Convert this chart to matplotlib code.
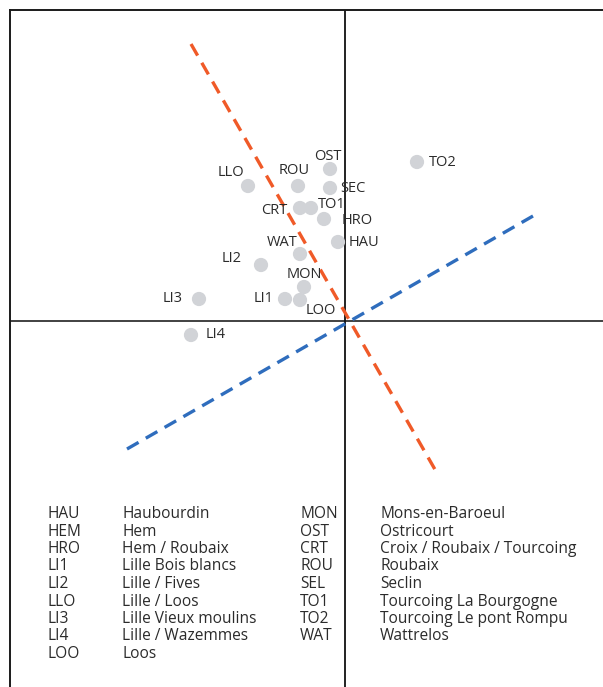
import matplotlib as mpl
mpl.use('Agg')
import matplotlib.pyplot as plt

plt.rcParams['font.family'] = ['Open Sans', 'DejaVu Sans']

# Scores of the sites on the two first axes
codes = ['HAU', 'HRO', 'LI1', 'LI2', 'LLO', 'LI3', 'LI4', 'LOO',
         'MON', 'OST', 'CRT', 'ROU', 'SEC', 'TO1', 'TO2', 'WAT']
xs = [-0.07, -0.21, -0.60, -0.84, -0.97, -1.46, -1.54, -0.45,
      -0.41, -0.15, -0.45, -0.47, -0.15, -0.34, 0.72, -0.45]
ys = [0.79, 1.02, 0.22, 0.56, 1.35, 0.22, -0.14, 0.21,
      0.34, 1.52, 1.13, 1.35, 1.33, 1.13, 1.59, 0.67]

# Variable axes (start and end)
orange_x = [-1.54, 0.92]
orange_y = [2.77, -1.52]
blue_x = [-2.18, 1.88]
blue_y = [-1.28, 1.05]

# Legend table
left_codes = ['HAU', 'HEM', 'HRO', 'LI1', 'LI2', 'LLO', 'LI3', 'LI4', 'LOO']
left_names = ['Haubourdin', 'Hem', 'Hem / Roubaix', 'Lille Bois blancs',
              'Lille / Fives', 'Lille / Loos', 'Lille Vieux moulins',
              'Lille / Wazemmes', 'Loos']
right_codes = ['MON', 'OST', 'CRT', 'ROU', 'SEL', 'TO1', 'TO2', 'WAT']
right_names = ['Mons-en-Baroeul', 'Ostricourt', 'Croix / Roubaix / Tourcoing',
               'Roubaix', 'Seclin', 'Tourcoing La Bourgogne',
               'Tourcoing Le pont Rompu', 'Wattrelos']

# label placement: (dx, dy) in pixels, horizontal alignment
label_pos = {
    'HAU': (11, 0, 'left'), 'HRO': (18, -2, 'left'), 'LI1': (-11, 0, 'right'),
    'LI2': (-19, 6, 'right'), 'LLO': (-17, 13, 'center'), 'LI3': (-16, 0, 'right'),
    'LI4': (15, 0, 'left'), 'LOO': (21, -10, 'center'), 'MON': (0, 12, 'center'),
    'OST': (-2, 13, 'center'), 'CRT': (-13, -2, 'right'), 'ROU': (-4, 15, 'center'),
    'SEC': (10, 0, 'left'), 'TO1': (7, 3, 'left'), 'TO2': (12, 0, 'left'),
    'WAT': (-18, 12, 'center'),
}

W, H = 603, 687
fig = plt.figure(figsize=(W / 100, H / 100), dpi=100)
ax = fig.add_axes([10 / W, -10 / H, 1.0, 1.0])
ax.set_xlim(-3.35, 2.68)
ax.set_ylim(-3.76, 3.11)
for side in ['right', 'bottom']:
    ax.spines[side].set_visible(False)
for side in ['left', 'top']:
    ax.spines[side].set_linewidth(1.4)
    ax.spines[side].set_color('#1a1a1a')
ax.set_xticks([])
ax.set_yticks([])

ax.axhline(0, color='#333333', lw=1.3, zorder=1)
ax.axvline(0, color='#111111', lw=1.3, zorder=1)

ax.scatter(xs, ys, s=105, color='#d1d3d7', edgecolors='none', zorder=3)
for c, x, y in zip(codes, xs, ys):
    dx, dy, ha = label_pos[c]
    ax.annotate(c, (x, y), xytext=(dx, dy), textcoords='offset pixels',
                ha=ha, va='center', fontsize=10.5, color='#2b2b2b', zorder=4)

ax.plot(orange_x, orange_y, color='#f05a28', lw=2.4, dashes=(4, 2.5), zorder=2)
ax.plot(blue_x, blue_y, color='#2f6dbd', lw=2.4, dashes=(4, 2.5), zorder=2)


def px(x, y):
    return x / W, 1 - y / H


row0, step = 514, 17.5
for i, (c, n) in enumerate(zip(left_codes, left_names)):
    fig.text(*px(47, row0 + i * step), c, ha='left', va='center', fontsize=11.2, color='#2b2b2b')
    fig.text(*px(122, row0 + i * step), n, ha='left', va='center', fontsize=11.2, color='#2b2b2b')
for i, (c, n) in enumerate(zip(right_codes, right_names)):
    fig.text(*px(300, row0 + i * step), c, ha='left', va='center', fontsize=11.2, color='#2b2b2b')
    fig.text(*px(380, row0 + i * step), n, ha='left', va='center', fontsize=11.2, color='#2b2b2b')

fig.savefig('out.png', dpi=100, facecolor='white')
